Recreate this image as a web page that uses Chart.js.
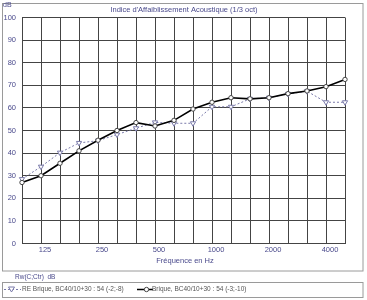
<!DOCTYPE html>
<html>
<head>
<meta charset="utf-8">
<script src="https://cdn.jsdelivr.net/npm/chart.js@4.4.1/dist/chart.umd.min.js"></script>
<style>
  html, body { margin: 0; padding: 0; background: #fff; }
</style>
</head>
<body>
<canvas id="chart" width="367" height="300"></canvas>
<script>
// third-octave bands, 100 Hz .. 5000 Hz
const FREQUENCIES = ["100", "125", "160", "200", "250", "315", "400", "500", "630",
  "800", "1000", "1250", "1600", "2000", "2500", "3150", "4000", "5000"];
const SHOWN_TICKS = ["125", "250", "500", "1000", "2000", "4000"];

const BRIQUE = [27, 30, 35.5, 41, 45.7, 50, 53.5, 52, 54.5, 59.5, 62.5, 64.5, 64, 64.5, 66.3, 67.5, 69.4, 72.6];
const RE_BRIQUE = [28.5, 34, 40.2, 44.5, 45.5, 48.2, 51, 53.6, 53.2, 53.2, 60.5, 60.5, 64, 64.5, 66.2, 67.4, 62.5, 62.5];

const TITLE = "Indice d'Affaiblissement Acoustique (1/3 oct)";
const X_TITLE = "Fréquence en Hz";
const Y_UNIT = "dB";
const RW_LABEL = "Rw(C;Ctr)  dB";
const LABEL_RE = "RE Brique, BC40/10+30 : 54 (-2;-8)";
const LABEL_BRIQUE = "Brique, BC40/10+30 : 54 (-3;-10)";

const FONT = '"Liberation Sans", Arial, sans-serif';
const BLUE = "#4a4a8c";
const RE_COLOR = "#7a7aaa";
const GRID = "#444";

// frame, texts and the legend box round the plot
const decorations = {
  id: "decorations",
  beforeDraw(chart) {
    const ctx = chart.ctx;
    ctx.save();
    ctx.strokeStyle = "#9a9a9a";
    ctx.lineWidth = 1;
    ctx.strokeRect(2.5, 3.5, 360.5, 267.5);
    ctx.strokeRect(2.5, 282.5, 360.5, 15);
    ctx.restore();
  },
  afterDraw(chart) {
    const ctx = chart.ctx;
    ctx.save();
    ctx.textBaseline = "middle";
    ctx.fillStyle = BLUE;

    ctx.font = `7px ${FONT}`;
    ctx.textAlign = "left";
    ctx.fillText(Y_UNIT, 3, 5.5);

    ctx.font = `7.5px ${FONT}`;
    ctx.textAlign = "center";
    ctx.fillText(TITLE, 184, 9.5);
    ctx.fillText(X_TITLE, 185, 261);

    ctx.font = `6.5px ${FONT}`;
    ctx.textAlign = "left";
    ctx.fillText(RW_LABEL, 15, 277.5);

    // legend samples
    const ly = 289.5;
    ctx.strokeStyle = RE_COLOR;
    ctx.lineWidth = 1;
    ctx.setLineDash([2, 2]);
    ctx.beginPath();
    ctx.moveTo(4, ly);
    ctx.lineTo(21, ly);
    ctx.stroke();
    ctx.setLineDash([]);
    ctx.fillStyle = "#fff";
    ctx.beginPath();
    ctx.moveTo(8.5, ly - 2.5);
    ctx.lineTo(14.5, ly - 2.5);
    ctx.lineTo(11.5, ly + 2.5);
    ctx.closePath();
    ctx.fill();
    ctx.stroke();

    ctx.strokeStyle = "#000";
    ctx.lineWidth = 1.5;
    ctx.beginPath();
    ctx.moveTo(137, ly);
    ctx.lineTo(153, ly);
    ctx.stroke();
    ctx.lineWidth = 1;
    ctx.strokeStyle = "#444";
    ctx.beginPath();
    ctx.arc(146.5, ly, 2.2, 0, Math.PI * 2);
    ctx.fill();
    ctx.stroke();

    ctx.fillStyle = "#555";
    ctx.fillText(LABEL_RE, 22, ly);
    ctx.fillText(LABEL_BRIQUE, 152, ly);
    ctx.restore();
  }
};

new Chart(document.getElementById("chart"), {
  type: "line",
  data: {
    labels: FREQUENCIES,
    datasets: [
      {
        label: LABEL_BRIQUE,
        data: BRIQUE,
        borderColor: "#000",
        borderWidth: 1.6,
        pointStyle: "circle",
        pointRadius: 2.2,
        pointBorderWidth: 1,
        pointBorderColor: "#444",
        pointBackgroundColor: "#fff",
        tension: 0
      },
      {
        label: LABEL_RE,
        data: RE_BRIQUE,
        borderColor: RE_COLOR,
        borderWidth: 1,
        borderDash: [2, 2],
        pointStyle: "triangle",
        rotation: 180,
        pointRadius: 3,
        pointBorderWidth: 1,
        pointBorderColor: RE_COLOR,
        pointBackgroundColor: "#fff",
        tension: 0
      }
    ]
  },
  options: {
    responsive: false,
    animation: false,
    layout: { padding: { top: 17.5, right: 22, bottom: 36.5, left: 0 } },
    plugins: {
      legend: { display: false },
      title: { display: false },
      tooltip: { enabled: false }
    },
    scales: {
      x: {
        type: "category",
        offset: false,
        afterFit: (scale) => { scale.height = 20; },
        grid: { color: GRID, lineWidth: 1, drawTicks: false, offset: false },
        border: { color: GRID },
        ticks: {
          autoSkip: false,
          maxRotation: 0,
          padding: 2,
          labelOffset: 4,
          color: BLUE,
          font: { family: FONT, size: 7.5 },
          callback: (value, i) => SHOWN_TICKS.includes(FREQUENCIES[i]) ? FREQUENCIES[i] : ""
        }
      },
      y: {
        min: 0,
        max: 100,
        afterFit: (scale) => { scale.width = 22; },
        grid: { color: GRID, lineWidth: 1, drawTicks: false },
        border: { color: GRID },
        ticks: {
          stepSize: 10,
          padding: 6,
          color: BLUE,
          font: { family: FONT, size: 7.5 }
        }
      }
    }
  },
  plugins: [decorations]
});
</script>
</body>
</html>
